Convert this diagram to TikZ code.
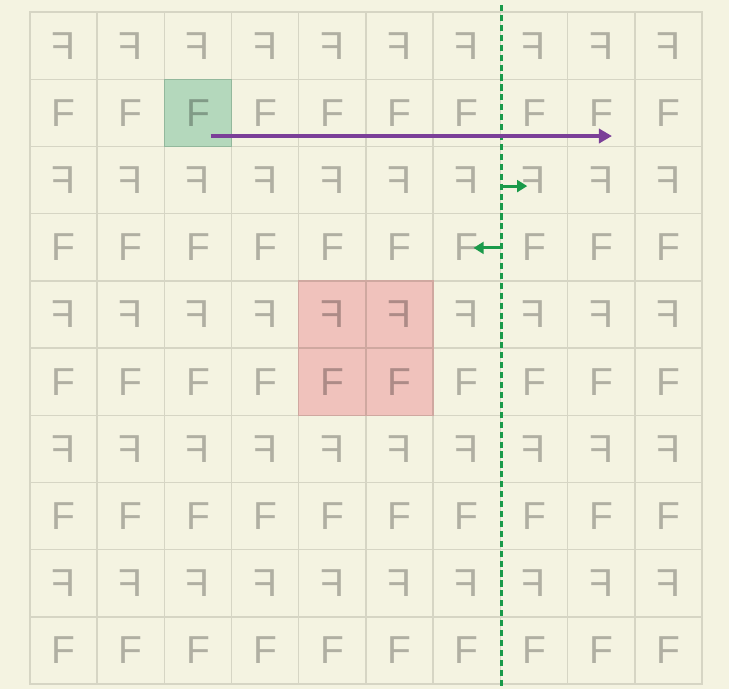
\documentclass[tikz,border=0pt]{standalone}
\usepackage{fontspec}
\setsansfont{Liberation Sans}
\usepackage{xcolor}
\usetikzlibrary{arrows.meta,positioning}
\definecolor{paper}{HTML}{F4F3E1}
\definecolor{gridline}{HTML}{D6D5C4}
\definecolor{pickfill}{HTML}{B4D8BC}
\definecolor{pickline}{HTML}{93B89C}
\definecolor{blockfill}{HTML}{F0C2BC}
\definecolor{blockline}{HTML}{CFA8A0}
\definecolor{scanpurple}{HTML}{7B3F98}
\definecolor{splitgreen}{HTML}{1A9A4A}

\begin{document}
\begin{tikzpicture}[x=1cm,y=1cm,
  cell/.style={draw=gridline,line width=0.6pt,fill=paper,minimum size=1cm,
    inner sep=0pt,outer sep=0pt,font=\sffamily\fontsize{16.5}{16.5}\selectfont,
    text=black,text opacity=0.28},
  pick/.style={fill=pickfill,draw=pickline},
  block/.style={fill=blockfill,draw=blockline},
  scan/.style={draw=scanpurple,line width=1.3pt,-{Triangle[length=5.5pt,width=6pt]}},
  split/.style={draw=splitgreen,line width=1.3pt,dash pattern=on 2.6pt off 1.6pt},
  nudge/.style={draw=splitgreen,line width=1.3pt,-{Triangle[length=4.3pt,width=5pt]}}]
  \useasboundingbox[fill=paper] (-0.446,-0.074) rectangle (10.402,10.179);
  % rows counted from the top, odd ones mirrored
  \foreach \r in {0,...,9} {
    \foreach \c in {0,...,9} {
      \pgfmathtruncatemacro{\m}{mod(\r,2)}
      \ifnum\m=0\relax
        \node[cell] (c-\r-\c) at (\c+0.5,9.5-\r) {\reflectbox{F}};
      \else
        \node[cell] (c-\r-\c) at (\c+0.5,9.5-\r) {F};
      \fi } }
  \node[cell,pick] at (c-1-2) {F};
  \foreach \r/\c/\t in {4/4/\reflectbox{F},4/5/\reflectbox{F},5/4/F,5/5/F}
    \node[cell,block] at (c-\r-\c) {\t};
  % split line and moves
  \coordinate (top) at (7.01,10.104);
  \coordinate (bot) at (7.01,-0.074);
  \draw[split] (top) -- (bot);
  \coordinate (s1) at (2.69,8.155);
  \coordinate (e1) at (8.66,8.155);
  \draw[scan] (s1) -- (e1);
  \coordinate (r1) at (7.01,7.41);
  \coordinate (r2) at (7.40,7.41);
  \draw[nudge] (r1) -- (r2);
  \coordinate (l1) at (7.01,6.49);
  \coordinate (l2) at (6.60,6.49);
  \draw[nudge] (l1) -- (l2);
\end{tikzpicture}
\end{document}
